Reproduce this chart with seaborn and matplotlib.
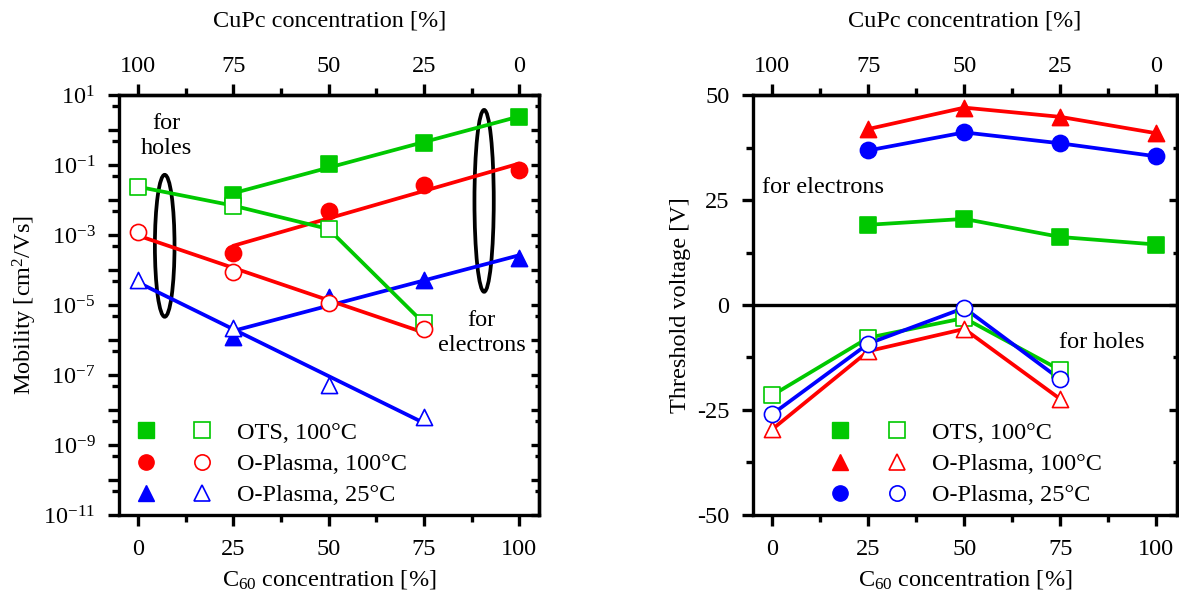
import numpy as np
import matplotlib
matplotlib.use("Agg")
import matplotlib.pyplot as plt
import seaborn as sns
from matplotlib.patches import Ellipse
from matplotlib.lines import Line2D
from matplotlib.legend_handler import HandlerTuple
from matplotlib.ticker import FixedLocator, MultipleLocator, FuncFormatter, NullFormatter

sns.set_style("ticks")
plt.rcParams['font.family'] = ['Liberation Serif', 'DejaVu Serif']
plt.rcParams['mathtext.fontset'] = 'custom'
plt.rcParams['mathtext.rm'] = 'Liberation Serif'
plt.rcParams['mathtext.it'] = 'Liberation Serif:italic'
plt.rcParams['axes.unicode_minus'] = False
plt.rcParams['axes.edgecolor'] = 'black'
plt.rcParams['text.color'] = 'black'
plt.rcParams['axes.labelcolor'] = 'black'
plt.rcParams['xtick.color'] = 'black'
plt.rcParams['ytick.color'] = 'black'

green, red, blue = '#00c800', '#ff0000', '#0000ff'
FS = 17.5

# ---- mobility data [cm2/Vs] ----
c60_e = [25, 50, 75, 100]          # electrons (filled)
mu_ots_e = [0.0139, 0.105, 0.416, 2.4]
mu_op100_e = [3.13e-4, 4.85e-3, 2.69e-2, 7.2e-2]
mu_op25_e = [1.25e-6, 1.66e-5, 5.18e-5, 2.15e-4]
c60_h = [0, 25, 50, 75]            # holes (open)
mu_ots_h = [0.024, 0.0069, 0.00148, 3.0e-6]
mu_op100_h = [1.22e-3, 8.95e-5, 1.12e-5, 2.02e-6]
mu_op25_h = [5.18e-5, 2.15e-6, 5.18e-8, 6.17e-9]

# ---- threshold voltage data [V] ----
vt_ots_e = [19.1, 20.5, 16.2, 14.4]
vt_op100_e = [41.9, 47.0, 44.8, 40.9]
vt_op25_e = [36.8, 41.1, 38.5, 35.4]
vt_ots_h = [-21.5, -7.8, -3.1, -15.5]
vt_op100_h = [-29.6, -11.0, -5.7, -22.4]
vt_op25_h = [-26.0, -9.2, -0.7, -17.7]

labels_left = ['OTS, 100°C', 'O-Plasma, 100°C', 'O-Plasma, 25°C']
labels_right = ['OTS, 100°C', 'O-Plasma, 100°C', 'O-Plasma, 25°C']
x_ticks = [0, 25, 50, 75, 100]

LW = 2.7
SPW = 2.4
MS = 135


def fit_line(x, y):
    k, b = np.polyfit(x, np.log10(y), 1)
    xs = np.array([min(x), max(x)], dtype=float)
    return xs, 10 ** (k * xs + b)


def style_axes(ax):
    for sp in ax.spines.values():
        sp.set_linewidth(SPW)
        sp.set_color('k')
        sp.set_visible(True)
    ax.set_xlim(-5, 105.3)
    ax.xaxis.set_major_locator(FixedLocator(x_ticks))
    ax.xaxis.set_minor_locator(MultipleLocator(12.5))
    ax.tick_params(which='both', direction='out', width=SPW, labelsize=FS,
                   top=False, right=False, colors='k')
    ax.tick_params(which='major', length=8, pad=9)
    ax.tick_params(which='minor', length=5)
    top = ax.secondary_xaxis('top', functions=(lambda x: 100 - x, lambda x: 100 - x))
    top.xaxis.set_major_locator(FixedLocator(x_ticks))
    top.xaxis.set_minor_locator(MultipleLocator(12.5))
    top.tick_params(which='both', direction='out', width=SPW, labelsize=FS, colors='k')
    top.tick_params(which='major', length=8, pad=5)
    top.tick_params(which='minor', length=5)
    top.spines['top'].set_linewidth(SPW)
    top.spines['top'].set_color('k')
    top.set_xlabel('CuPc concentration [%]', fontsize=FS, labelpad=21)
    right = ax.secondary_yaxis('right', functions=(lambda y: y, lambda y: y))
    right.tick_params(which='both', direction='in', width=SPW, labelright=False, colors='k')
    right.tick_params(which='major', length=6)
    right.tick_params(which='minor', length=3)
    right.spines['right'].set_linewidth(SPW)
    right.spines['right'].set_color('k')
    ax.set_xlabel('C$_{60}$ concentration [%]', fontsize=FS, labelpad=6)
    return right


def pair_legend(ax, handles, labels, anchor):
    ax.legend(handles=handles, labels=labels, loc='center left', bbox_to_anchor=anchor,
              frameon=False, fontsize=FS, handler_map={tuple: HandlerTuple(ndivide=None, pad=1.35)},
              handlelength=3.3, handletextpad=0.95, labelspacing=0.38, borderpad=0, borderaxespad=0)


fig = plt.figure(figsize=(11.79, 6.06), dpi=100)
ax1 = fig.add_axes([0.1009, 0.1502, 0.3566, 0.693])
ax2 = fig.add_axes([0.6387, 0.1502, 0.3593, 0.693])

# ---------------- left: mobility ----------------
ax1.set_yscale('log')
series_l = [
    (c60_e, mu_ots_e, green, 's', True, True),
    (c60_e, mu_op100_e, red, 'o', True, True),
    (c60_e, mu_op25_e, blue, '^', True, True),
    (c60_h, mu_ots_h, green, 's', False, False),
    (c60_h, mu_op100_h, red, 'o', False, True),
    (c60_h, mu_op25_h, blue, '^', False, True),
]
for x, y, col, mk, filled, fit in series_l:
    if fit:
        xs, ys = fit_line(x, y)
    else:
        xs, ys = x, y
    sns.lineplot(x=xs, y=ys, color=col, lw=LW, ax=ax1, zorder=2)
for x, y, col, mk, filled, fit in series_l:
    sns.scatterplot(x=x, y=y, marker=mk, s=MS, ax=ax1, zorder=3,
                    color=col if filled else 'white', edgecolor=col, linewidth=1.2)

ax1.set_ylim(1e-11, 10)
ax1.yaxis.set_major_locator(FixedLocator([10.0 ** e for e in range(-11, 2)]))
ax1.yaxis.set_minor_locator(FixedLocator([5 * 10.0 ** e for e in range(-12, 1)]))
ax1.yaxis.set_major_formatter(FuncFormatter(
    lambda v, p: (r'$\mathdefault{10^{%d}}$' % round(np.log10(v))) if round(np.log10(v)) % 2 else ''))
ax1.yaxis.set_minor_formatter(NullFormatter())
r1 = style_axes(ax1)
r1.yaxis.set_major_locator(FixedLocator([10.0 ** e for e in range(-11, 2)]))
r1.yaxis.set_minor_locator(FixedLocator([5 * 10.0 ** e for e in range(-12, 1)]))
r1.yaxis.set_minor_formatter(NullFormatter())
ax1.set_ylabel('Mobility [cm$^2$/Vs]', fontsize=FS, labelpad=3)

ax1.add_patch(Ellipse((0.1088, 0.641), 0.0467, 0.338, transform=ax1.transAxes,
                      fill=False, ec='k', lw=2.7))
ax1.add_patch(Ellipse((0.8685, 0.748), 0.0459, 0.433, transform=ax1.transAxes,
                      fill=False, ec='k', lw=2.7))
ax1.text(7.5, 10 ** -0.17, 'for\nholes', ha='center', va='center', fontsize=FS, linespacing=1.2)
ax1.text(90.2, 10 ** -5.8, 'for\nelectrons', ha='center', va='center', fontsize=FS, linespacing=1.2)

hl = []
for col, mk in [(green, 's'), (red, 'o'), (blue, '^')]:
    hf = Line2D([], [], marker=mk, color=col, ls='none', markersize=11)
    ho = Line2D([], [], marker=mk, color=col, mfc='white', ls='none', markersize=11, mew=1.2)
    hl.append((hf, ho))
pair_legend(ax1, hl, labels_left, (0.036, 0.121))

# ---------------- right: threshold voltage ----------------
series_r = [
    (c60_e, vt_ots_e, green, 's', True),
    (c60_e, vt_op100_e, red, '^', True),
    (c60_e, vt_op25_e, blue, 'o', True),
    (c60_h, vt_ots_h, green, 's', False),
    (c60_h, vt_op100_h, red, '^', False),
    (c60_h, vt_op25_h, blue, 'o', False),
]
for x, y, col, mk, filled in series_r:
    sns.lineplot(x=x, y=y, color=col, lw=LW, ax=ax2, zorder=2)
for x, y, col, mk, filled in series_r:
    sns.scatterplot(x=x, y=y, marker=mk, s=MS, ax=ax2, zorder=3,
                    color=col if filled else 'white', edgecolor=col, linewidth=1.2)
ax2.axhline(0, color='k', lw=SPW, zorder=1)
ax2.set_ylim(-50, 50)
ax2.yaxis.set_major_locator(FixedLocator([-50, -25, 0, 25, 50]))
ax2.yaxis.set_minor_locator(MultipleLocator(12.5))
r2 = style_axes(ax2)
r2.yaxis.set_major_locator(FixedLocator([-50, -25, 0, 25, 50]))
r2.yaxis.set_minor_locator(MultipleLocator(12.5))
ax2.set_ylabel('Threshold voltage [V]', fontsize=FS, labelpad=4)
ax2.text(-2.6, 27.9, 'for electrons', ha='left', va='center', fontsize=FS)
ax2.text(74.7, -9.0, 'for holes', ha='left', va='center', fontsize=FS)

hr = []
for col, mk in [(green, 's'), (red, '^'), (blue, 'o')]:
    hf = Line2D([], [], marker=mk, color=col, ls='none', markersize=11)
    ho = Line2D([], [], marker=mk, color=col, mfc='white', ls='none', markersize=11, mew=1.2)
    hr.append((hf, ho))
pair_legend(ax2, hr, labels_right, (0.178, 0.121))

fig.savefig('out.png', dpi=100)
